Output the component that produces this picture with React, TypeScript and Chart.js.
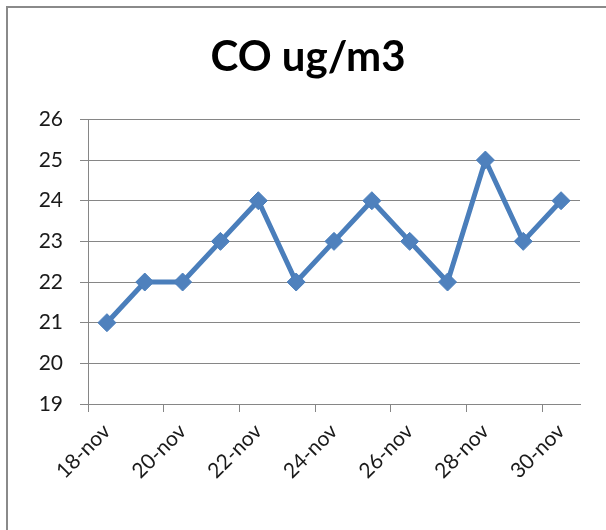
import React, { useEffect, useRef } from "react";
import { Chart, registerables } from "chart.js";

Chart.register(...registerables);

const categories = [
  "18-nov", "19-nov", "20-nov", "21-nov", "22-nov", "23-nov", "24-nov",
  "25-nov", "26-nov", "27-nov", "28-nov", "29-nov", "30-nov",
];
const coValues = [21, 22, 22, 23, 24, 22, 23, 24, 23, 22, 25, 23, 24];
const yMin = 19;
const yMax = 26;
const chartTitle = "CO ug/m3";

const FONT = "Lato, 'Open Sans', sans-serif";
const GRID = "#868686";

export default function App() {
  const canvasRef = useRef<HTMLCanvasElement | null>(null);

  useEffect(() => {
    document.body.style.margin = "0";
    const canvas = canvasRef.current;
    if (!canvas) return;
    const chart = new Chart(canvas, {
      type: "line",
      data: {
        labels: categories,
        datasets: [
          {
            label: "CO",
            data: coValues,
            borderColor: "#4A7EBB",
            borderWidth: 5,
            backgroundColor: "#4F81BD",
            pointStyle: "rectRot",
            pointRadius: 9,
            pointHoverRadius: 9,
            pointBackgroundColor: "#4F81BD",
            pointBorderColor: "#4A7EBB",
            pointBorderWidth: 1,
            tension: 0,
            fill: false,
          },
        ],
      },
      options: {
        responsive: false,
        animation: false,
        devicePixelRatio: 1,
        layout: { padding: { left: 10, right: 0, top: 0, bottom: 0 } },
        plugins: {
          legend: { display: false },
          tooltip: { enabled: false },
          title: {
            display: true,
            text: chartTitle,
            color: "#000",
            font: { family: FONT, size: 42, weight: "bold", lineHeight: 1.2 },
            padding: { top: 32, bottom: 37 },
          },
        },
        scales: {
          x: {
            type: "category",
            offset: true,
            grid: {
              offset: true,
              drawOnChartArea: false,
              drawTicks: true,
              tickLength: 8,
              color: (ctx: any) => (ctx.index % 2 === 0 && ctx.index < categories.length ? GRID : "rgba(0,0,0,0)"),
            },
            border: { display: true, color: GRID, width: 1 },
            ticks: {
              autoSkip: false,
              maxRotation: 45,
              minRotation: 45,
              padding: 7,
              color: "#1a1a1a",
              font: { family: FONT, size: 21 },
              callback: (_v: any, i: number) => (i % 2 === 0 ? categories[i] : ""),
            },
            afterFit: (scale: any) => {
              scale.height = 126;
            },
          },
          y: {
            min: yMin,
            max: yMax,
            grid: {
              color: GRID,
              drawTicks: true,
              tickLength: 8,
            },
            border: { display: true, color: GRID, width: 1 },
            ticks: {
              stepSize: 1,
              padding: 17,
              color: "#1a1a1a",
              font: { family: FONT, size: 21 },
            },
            afterFit: (scale: any) => {
              scale.width = 78;
            },
          },
          yRight: {
            type: "linear",
            position: "right",
            display: true,
            grid: { display: false, drawTicks: false },
            border: { display: false },
            ticks: { display: false },
            afterFit: (scale: any) => {
              scale.width = 26;
            },
          },
        },
      },
    });
    return () => chart.destroy();
  }, []);

  return (
    <div style={{ position: "relative", width: 606, height: 530, background: "#fff", overflow: "hidden" }}>
      <canvas ref={canvasRef} width={606} height={530} style={{ position: "absolute", left: 0, top: 0 }} />
      <div
        style={{
          position: "absolute",
          left: 6,
          top: 6,
          right: -10,
          bottom: -10,
          borderLeft: "2px solid #8a8a8a",
          borderTop: "2px solid #8a8a8a",
          pointerEvents: "none",
        }}
      />
    </div>
  );
}
